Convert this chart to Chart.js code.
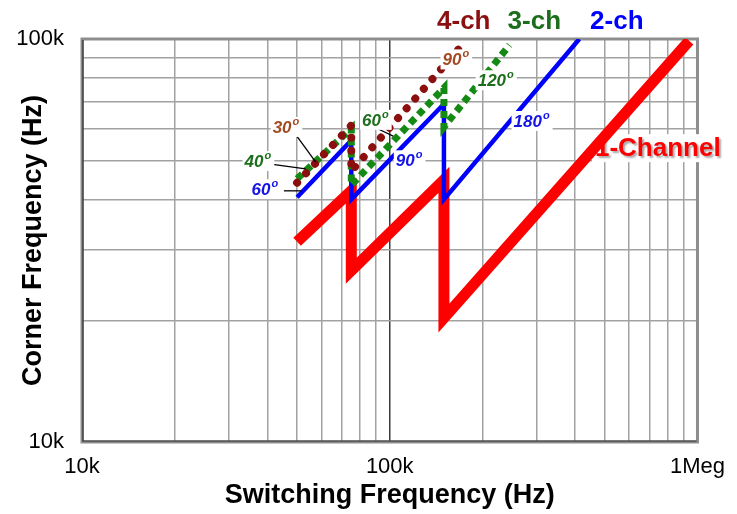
<!DOCTYPE html>
<html>
<head>
<meta charset="utf-8">
<script src="https://cdn.jsdelivr.net/npm/chart.js@4.4.1/dist/chart.umd.min.js"></script>
<style>
  html, body { margin: 0; padding: 0; background: #ffffff; }
  #c { display: block; }
</style>
</head>
<body>
<canvas id="c" width="737" height="514"></canvas>
<script>
// Corner frequency vs. switching frequency, per channel count (Hz)
const oneChFsw   = [50000, 75000, 75000, 150000, 150000, 940000];
const oneChFc    = [31400, 42000, 26600, 44700, 20300, 99000];

const twoChFsw   = [50000, 75000, 75000, 150000, 150000, 413000];
const twoChFc    = [40500, 56000, 40000, 69000, 40000, 100000];

const threeChFsw = [50000, 75000, 75000, 150000, 150000, 245000];
const threeChFc  = [45000, 60000, 43400, 75600, 60500, 96600];

const fourChFsw  = [50000, 75000, 75000, 175000];
const fourChFc   = [44000, 61000, 47000, 98000];

// Axis tick labels
const xTickValues = [10000, 100000, 1000000];
const xTickText   = ['10k', '100k', '1Meg'];
const yTickValues = [10000, 100000];
const yTickText   = ['10k', '100k'];

// Series names and phase-margin annotations
const seriesNames = ['1-Channel', '2-ch', '3-ch', '4-ch'];
const phaseText   = ['30', '40', '60', '60', '90', '90', '120', '180'];

const toPoints = (xs, ys) => xs.map((x, i) => ({ x: x, y: ys[i] }));

const FONT = '"Liberation Sans", Arial, sans-serif';
const RED = '#ff0000', BLUE = '#0000ff', GREEN = '#148a14', MAROON = '#8b0f0f';
const GREEN_TXT = '#1c6e1c', SIENNA = '#a34a22', BLUE_TXT = '#1414e6';

// placement of text annotations, in data units (Hz, Hz)
const seriesLabelSpots = [
  { at: [743000, 53600], color: RED },
  { at: [547000, 110000], color: BLUE },
  { at: [295000, 110000], color: GREEN_TXT },
  { at: [174000, 110000], color: MAROON }
];
const phaseSpots = [
  { at: [46000, 60500],  color: SIENNA },
  { at: [37300, 49800],  color: GREEN_TXT },
  { at: [39300, 42400],  color: BLUE_TXT },
  { at: [89800, 63000],  color: GREEN_TXT },
  { at: [115600, 50000], color: BLUE_TXT },
  { at: [164000, 89000], color: SIENNA },
  { at: [221000, 79000], color: GREEN_TXT },
  { at: [289000, 62600], color: BLUE_TXT }
];
const leaderLines = [
  [[49900, 57400], [57500, 49500]],
  [[40500, 49000], [53300, 47600]],
  [[45300, 42000], [51800, 42000]],
  [[91800, 59800], [102600, 57400]]
];

// grid positions 1..9 x 10^n between two decades
function decadeTicks(min, max) {
  const out = [];
  for (let d = min; d < max; d *= 10) {
    for (let k = 1; k <= 9; k++) out.push({ value: k * d });
  }
  out.push({ value: max });
  return out;
}

function labelFor(values, texts, v) {
  for (let i = 0; i < values.length; i++) {
    if (Math.abs(values[i] - v) / values[i] < 1e-6) return texts[i];
  }
  return '';
}

const frameAndTextPlugin = {
  id: 'frameAndText',
  beforeDatasetsDraw(chart) {
    const { ctx, chartArea: a } = chart;
    ctx.save();
    // plot frame
    ctx.strokeStyle = '#8e8e8e';
    ctx.lineWidth = 3;
    ctx.strokeRect(a.left, a.top, a.right - a.left, a.bottom - a.top);
    ctx.strokeStyle = '#2a2a2a';
    ctx.lineWidth = 1.2;
    ctx.beginPath();
    ctx.moveTo(a.left + 1, a.top + 1);
    ctx.lineTo(a.left + 1, a.bottom - 1);
    ctx.lineTo(a.right - 1, a.bottom - 1);
    ctx.stroke();

    // "1-Channel" sits under the traces
    const xs = chart.scales.x, ys = chart.scales.y;
    const s = seriesLabelSpots[0];
    const cx = xs.getPixelForValue(s.at[0]), cy = ys.getPixelForValue(s.at[1]);
    ctx.font = 'bold 26px ' + FONT;
    const w = ctx.measureText(seriesNames[0]).width;
    ctx.fillStyle = '#ffffff';
    ctx.fillRect(cx - w / 2 - 3, cy - 14, w + 6, 28);
    ctx.textAlign = 'center';
    ctx.textBaseline = 'middle';
    ctx.shadowColor = 'rgba(0,0,0,0.35)';
    ctx.shadowOffsetX = 2;
    ctx.shadowOffsetY = 2;
    ctx.shadowBlur = 2;
    ctx.fillStyle = s.color;
    ctx.fillText(seriesNames[0], cx, cy + 1);
    ctx.restore();
  },
  afterDatasetsDraw(chart) {
    const { ctx } = chart;
    const xs = chart.scales.x, ys = chart.scales.y;
    const px = v => xs.getPixelForValue(v), py = v => ys.getPixelForValue(v);
    ctx.save();
    // leader lines
    ctx.strokeStyle = '#000000';
    ctx.lineWidth = 1.3;
    leaderLines.forEach(l => {
      ctx.beginPath();
      ctx.moveTo(px(l[0][0]), py(l[0][1]));
      ctx.lineTo(px(l[1][0]), py(l[1][1]));
      ctx.stroke();
    });
    // phase labels with raised degree mark
    const mainFont = 'italic bold 17px ' + FONT;
    const supFont = 'italic bold 11px ' + FONT;
    phaseSpots.forEach((p, i) => {
      const t = phaseText[i];
      const cx = px(p.at[0]), cy = py(p.at[1]);
      ctx.font = mainFont;
      const w1 = ctx.measureText(t).width;
      ctx.font = supFont;
      const w2 = ctx.measureText('o').width;
      const w = w1 + w2 + 1;
      const x0 = cx - w / 2;
      ctx.fillStyle = '#ffffff';
      ctx.fillRect(x0 - 2, cy - 10, w + 5, 20);
      ctx.fillStyle = p.color;
      ctx.textAlign = 'left';
      ctx.textBaseline = 'middle';
      ctx.font = mainFont;
      ctx.fillText(t, x0, cy + 1);
      ctx.font = supFont;
      ctx.fillText('o', x0 + w1 + 1, cy - 5);
    });
    // channel-count names above the plot
    ctx.font = 'bold 26px ' + FONT;
    ctx.textAlign = 'center';
    ctx.textBaseline = 'middle';
    for (let i = 1; i < seriesLabelSpots.length; i++) {
      const s = seriesLabelSpots[i];
      ctx.fillStyle = s.color;
      ctx.fillText(seriesNames[i], px(s.at[0]), py(s.at[1]));
    }
    ctx.restore();
  }
};

const gridColor = ctx => (ctx.tick && Math.abs(ctx.tick.value - 100000) < 1) ? '#3c3c3c' : '#a2a2a2';

new Chart(document.getElementById('c'), {
  type: 'line',
  data: {
    datasets: [
      {
        label: seriesNames[3],
        data: toPoints(fourChFsw, fourChFc),
        borderColor: MAROON,
        borderWidth: 8,
        borderDash: [0.01, 13],
        borderCapStyle: 'round',
        pointRadius: 0,
        order: 0
      },
      {
        label: seriesNames[2],
        data: toPoints(threeChFsw, threeChFc),
        borderColor: GREEN,
        borderWidth: 7,
        borderDash: [7, 5],
        borderCapStyle: 'butt',
        pointRadius: 0,
        order: 1
      },
      {
        label: seriesNames[1],
        data: toPoints(twoChFsw, twoChFc),
        borderColor: BLUE,
        borderWidth: 4.5,
        pointRadius: 0,
        order: 2
      },
      {
        label: seriesNames[0],
        data: toPoints(oneChFsw, oneChFc),
        borderColor: RED,
        borderWidth: 11,
        borderJoinStyle: 'miter',
        pointRadius: 0,
        order: 3
      }
    ]
  },
  options: {
    responsive: false,
    animation: false,
    devicePixelRatio: 1,
    layout: { padding: { top: 39, right: 36, left: 2, bottom: 0 } },
    plugins: { legend: { display: false }, tooltip: { enabled: false } },
    scales: {
      x: {
        type: 'logarithmic',
        min: 10000,
        max: 1000000,
        afterBuildTicks: s => { s.ticks = decadeTicks(10000, 1000000); },
        grid: { color: gridColor, lineWidth: 1.5, drawTicks: false },
        border: { display: false },
        ticks: {
          autoSkip: false,
          maxRotation: 0,
          padding: 12,
          color: '#000000',
          font: { family: FONT, size: 22 },
          callback: v => labelFor(xTickValues, xTickText, v)
        },
        title: {
          display: true,
          text: 'Switching Frequency (Hz)',
          color: '#000000',
          font: { family: FONT, size: 27, weight: 'bold' },
          padding: { top: 0, bottom: 2 }
        },
        afterFit: s => { s.height = 72; }
      },
      y: {
        type: 'logarithmic',
        min: 10000,
        max: 100000,
        afterBuildTicks: s => { s.ticks = decadeTicks(10000, 100000); },
        grid: { color: '#a2a2a2', lineWidth: 1.5, drawTicks: false },
        border: { display: false },
        ticks: {
          autoSkip: false,
          padding: 18,
          color: '#000000',
          font: { family: FONT, size: 22 },
          callback: v => labelFor(yTickValues, yTickText, v)
        },
        title: {
          display: true,
          text: 'Corner Frequency (Hz)',
          color: '#000000',
          font: { family: FONT, size: 27, weight: 'bold' },
          padding: { top: 15, bottom: 0 }
        },
        afterFit: s => { s.width = 80; }
      }
    }
  },
  plugins: [frameAndTextPlugin]
});
</script>
</body>
</html>
